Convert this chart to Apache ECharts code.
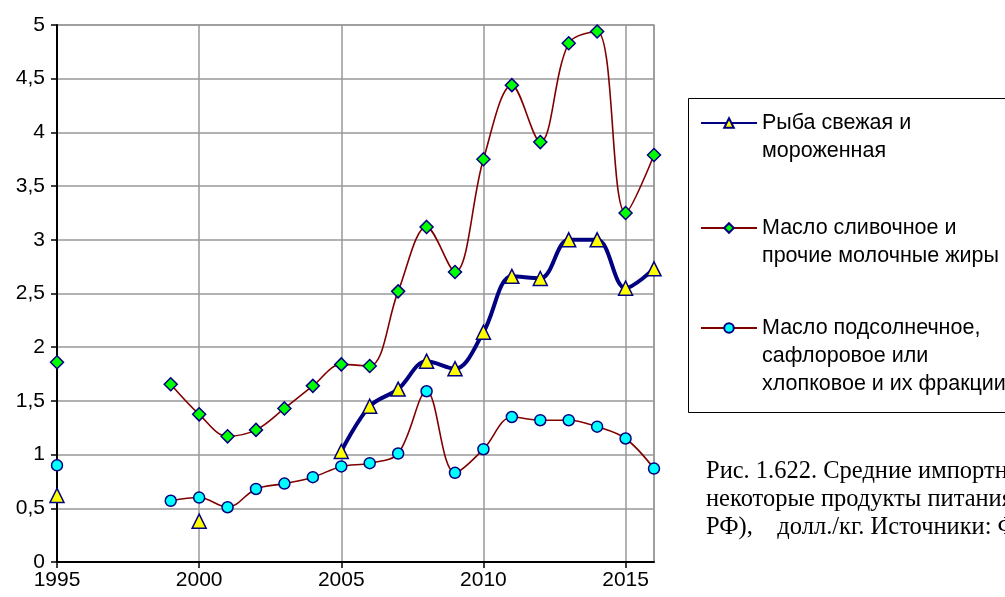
<!DOCTYPE html>
<html>
<head>
<meta charset="UTF-8">
<title></title>
<style>
html,body{margin:0;padding:0;background:#fff;}
#charts{width:1005px;height:597px;}
</style>
</head>
<body>
<div id="charts"></div>
<script src="https://cdn.jsdelivr.net/npm/echarts@6/dist/echarts.min.js"></script>
<script>
var mycharts = echarts.init(document.getElementById('charts'))

// годы по оси X
var years = [1995,1996,1997,1998,1999,2000,2001,2002,2003,2004,2005,2006,2007,2008,2009,2010,2011,2012,2013,2014,2015,2016];
// Рыба свежая и мороженная
var fish = [0.62,null,null,null,null,0.38,null,null,null,null,1.03,1.45,1.61,1.87,1.80,2.14,2.66,2.64,3.00,3.00,2.55,2.73];
// Масло сливочное и прочие молочные жиры
var butter = [1.86,null,null,null,1.655,1.375,1.17,1.23,1.43,1.64,1.84,1.825,2.52,3.12,2.70,3.75,4.44,3.91,4.83,4.94,3.25,3.79];
// Масло подсолнечное, сафлоровое или хлопковое и их фракции
var oil = [0.90,null,null,null,0.57,0.60,0.51,0.68,0.73,0.79,0.89,0.92,1.01,1.59,0.83,1.05,1.35,1.32,1.32,1.26,1.15,0.87];

var names = ['Рыба свежая и мороженная', 'Масло сливочное и прочие молочные жиры', 'Масло подсолнечное, сафлоровое или хлопковое и их фракции'];
// строки подписи в легенде
var legendLines = {};
legendLines[names[0]] = ['Рыба свежая и', 'мороженная'];
legendLines[names[1]] = ['Масло сливочное и', 'прочие молочные жиры'];
legendLines[names[2]] = ['Масло подсолнечное,', 'сафлоровое или', 'хлопковое и их фракции'];

var pairs = function (vals) {
    var res = [];
    for (var i = 0; i < years.length; i++) {
        res.push([years[i], vals[i] == null ? '-' : vals[i]]);
    }
    return res;
};

var font = 'Liberation Sans';
var fmtComma = function (v) { return String(v).replace('.', ','); };

// одна легенда на серию; пустые строки сверху ставят значок напротив первой строки
var makeLegend = function (name, top) {
    return {
        data: [name],
        left: 700,
        top: top,
        orient: 'vertical',
        padding: 0,
        itemWidth: 56,
        itemHeight: 12,
        selectedMode: false,
        formatter: function (n) {
            var l = legendLines[n];
            var pre = '';
            for (var i = 1; i < l.length; i++) pre += ' \n';
            return pre + l.join('\n');
        },
        textStyle: {
            fontFamily: font,
            fontSize: 21.5,
            color: '#000',
            lineHeight: 28
        }
    };
};

option = {
    backgroundColor: '#fff',
    animation: false,
    grid: {
        left: 57, right: 351, top: 25, bottom: 35,
        show: true,
        borderColor: '#999',
        borderWidth: 1.5
    },
    legend: [
        makeLegend(names[0], 81),
        makeLegend(names[1], 186),
        makeLegend(names[2], 258)
    ],
    xAxis: {
        type: 'value',
        min: 1995,
        max: 2016,
        interval: 5,
        axisLine: { lineStyle: { color: '#000', width: 2 } },
        axisTick: { show: true, length: 6, lineStyle: { color: '#000', width: 1.5 } },
        axisLabel: {
            fontFamily: font, fontSize: 21, color: '#000', margin: 8,
            showMaxLabel: false,
            formatter: function (v) { return v % 5 === 0 ? String(v) : ''; }
        },
        splitLine: { show: true, lineStyle: { color: '#999', width: 1.5 } }
    },
    yAxis: {
        type: 'value',
        min: 0,
        max: 5,
        interval: 0.5,
        axisLine: { show: true, lineStyle: { color: '#000', width: 2 } },
        axisTick: { show: true, length: 6, lineStyle: { color: '#000', width: 1.5 } },
        axisLabel: { fontFamily: font, fontSize: 21, color: '#000', margin: 12, formatter: fmtComma },
        splitLine: { show: true, lineStyle: { color: '#999', width: 1.5 } }
    },
    graphic: [
        {
            type: 'rect',
            shape: { x: 688.5, y: 98.5, width: 330, height: 314 },
            style: { fill: 'none', stroke: '#000', lineWidth: 1 }
        },
        {
            type: 'text',
            left: 706,
            top: 458,
            style: {
                text: 'Рис. 1.622. Средние импортные цены на\nнекоторые продукты питания (импорт в\nРФ),    долл./кг. Источники: ФТС РФ',
                font: '24.5px "Liberation Serif"',
                lineHeight: 28,
                fill: '#000'
            }
        }
    ],
    series: [
        {
            name: names[1],
            type: 'line',
            data: pairs(butter),
            smooth: 0.35,
            connectNulls: false,
            symbol: 'diamond',
            symbolSize: 13,
            showSymbol: true,
            lineStyle: { color: '#800000', width: 1.6 },
            itemStyle: { color: '#00ff00', borderColor: '#000080', borderWidth: 1.5 }
        },
        {
            name: names[2],
            type: 'line',
            data: pairs(oil),
            smooth: 0.35,
            connectNulls: false,
            symbol: 'circle',
            symbolSize: 11,
            showSymbol: true,
            lineStyle: { color: '#800000', width: 1.6 },
            itemStyle: { color: '#00ffff', borderColor: '#000080', borderWidth: 1.5 }
        },
        {
            name: names[0],
            type: 'line',
            data: pairs(fish),
            smooth: 0.35,
            connectNulls: false,
            symbol: 'triangle',
            symbolSize: 14,
            showSymbol: true,
            lineStyle: { color: '#000080', width: 4 },
            itemStyle: { color: '#ffff00', borderColor: '#000080', borderWidth: 1.5 }
        }
    ]
}
mycharts.setOption(option);
</script>
</body>
</html>
